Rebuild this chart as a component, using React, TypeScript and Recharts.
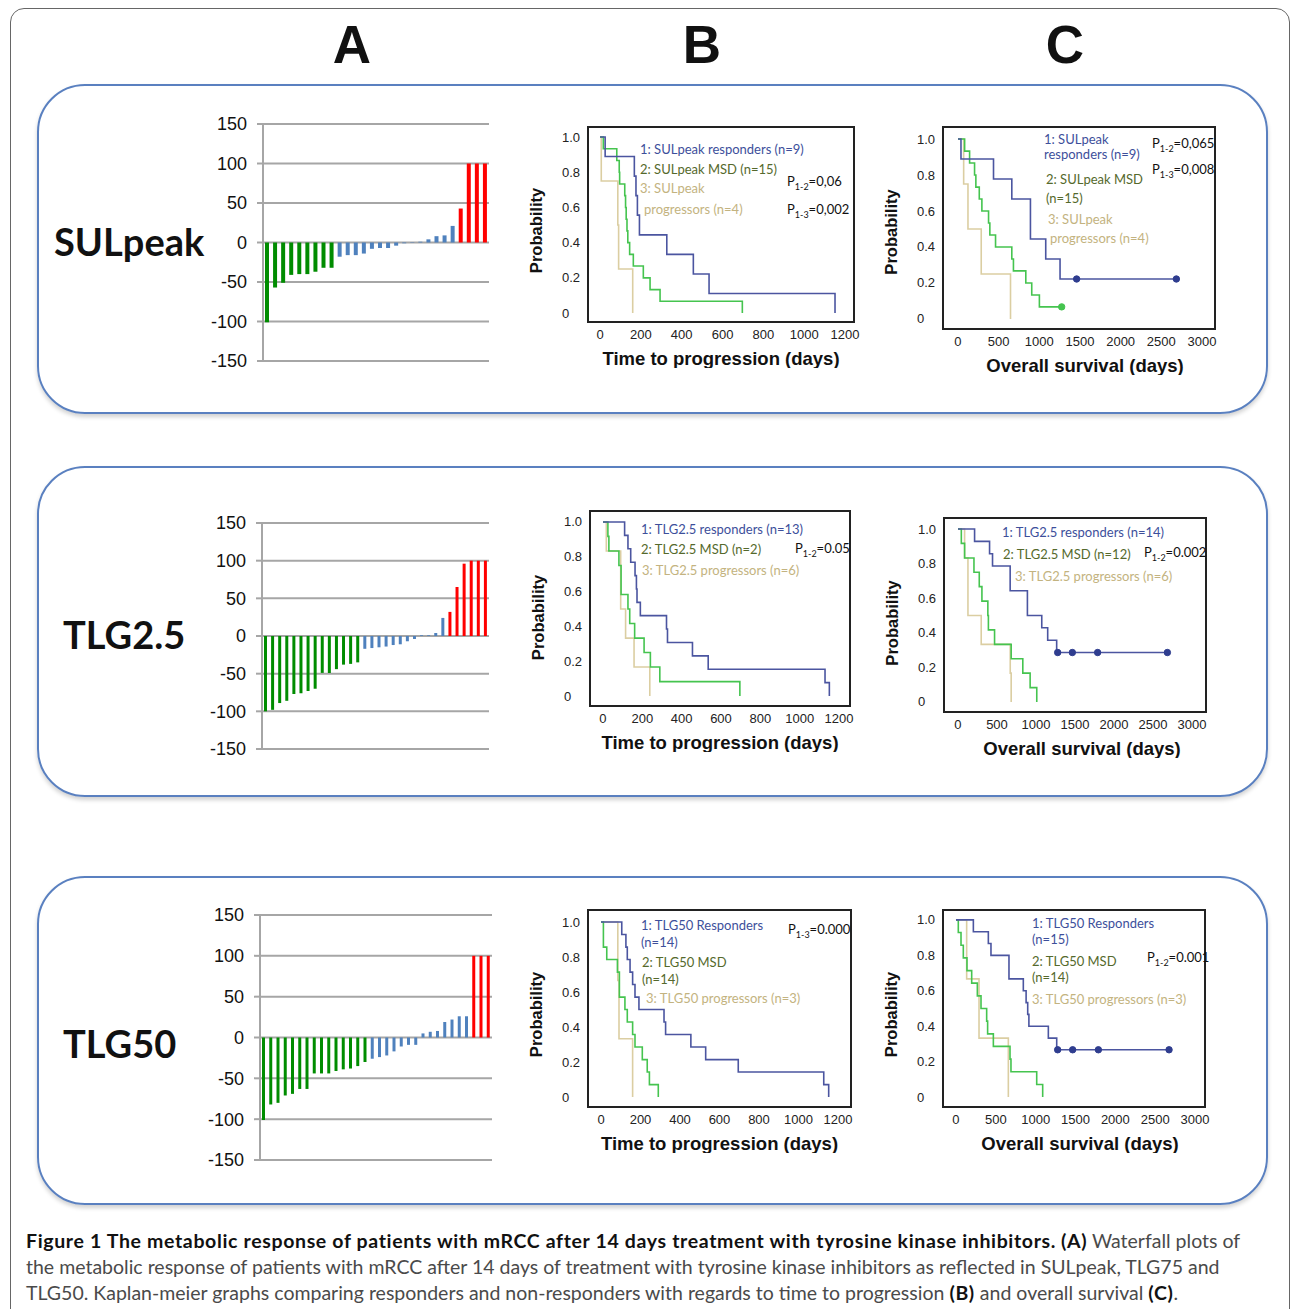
import React from "react"
import {
  Bar,
  BarChart,
  CartesianGrid,
  Cell,
  Line,
  LineChart,
  ReferenceArea,
  XAxis,
  YAxis,
} from "recharts"

// ---- waterfall values (% change, sorted per patient) ----
const waterfallTicks = [-150, -100, -50, 0, 50, 100, 150]

const sulpeakResp = [-101, -57, -51, -41, -40, -40, -37, -32, -32]
const sulpeakMsd = [-18, -16, -16, -14, -8, -7, -7, -4, -1, 0.5, 1, 4, 8, 9, 21]
const sulpeakProg = [43, 100, 100, 100]

const tlg25Resp = [-100, -98, -89, -86, -77, -76, -73, -70, -49, -49, -44, -38, -37, -35]
const tlg25Msd = [-17, -16, -15, -14, -12, -11, -7, -4, 1, 1, 4, 24]
const tlg25Prog = [32, 65, 96, 100, 100, 100]

const tlg50Resp = [-101, -82, -80, -71, -69, -63, -63, -44, -44, -44, -41, -39, -38, -35, -30]
const tlg50Msd = [-26, -24, -22, -17, -11, -9, -9, 5, 7, 8, 19, 22, 26, 26]
const tlg50Prog = [100, 100, 100]

// ---- Kaplan-Meier steps: [days, probability, censored?] ----
const ttpTicks = [0, 200, 400, 600, 800, 1000, 1200]
const osTicks = [0, 500, 1000, 1500, 2000, 2500, 3000]
const probTicks = [0, 0.2, 0.4, 0.6, 0.8, 1.0]

const b1Resp = [[0, 1], [25, 0.889], [168, 0.778], [176, 0.667], [183, 0.556], [193, 0.444], [327, 0.333], [457, 0.222], [534, 0.111], [1151, 0]]
const b1Msd = [[0, 1], [16, 0.933], [82, 0.867], [94, 0.8], [96, 0.733], [121, 0.667], [125, 0.6], [128, 0.533], [132, 0.467], [136, 0.4], [145, 0.333], [163, 0.267], [212, 0.2], [245, 0.133], [294, 0.067], [697, 0]]
const b1Prog = [[0, 1], [6, 0.75], [87, 0.5], [91, 0.25], [160, 0]]

const c1Resp = [[0, 1], [37, 0.889], [437, 0.778], [662, 0.667], [891, 0.444], [1079, 0.333], [1255, 0.222], [1459, 0.222, 1], [2685, 0.222, 1]]
const c1Msd = [[0, 1], [82, 0.933], [143, 0.867], [204, 0.8], [220, 0.733], [262, 0.667], [294, 0.6], [376, 0.533], [392, 0.467], [462, 0.4], [662, 0.333], [682, 0.267], [834, 0.2], [907, 0.133], [1001, 0.067], [1275, 0.067, 1]]
const c1Prog = [[0, 1], [70, 0.75], [123, 0.5], [286, 0.25], [646, 0]]

const b2Resp = [[0, 1], [110, 0.923], [127, 0.846], [141, 0.769], [163, 0.692], [170, 0.615], [173, 0.538], [190, 0.462], [323, 0.385], [328, 0.308], [455, 0.231], [535, 0.154], [1129, 0.077], [1151, 0]]
const b2Msd = [[0, 1], [25, 0.917], [30, 0.833], [81, 0.75], [92, 0.583], [127, 0.5], [136, 0.417], [161, 0.333], [209, 0.25], [241, 0.167], [289, 0.083], [696, 0]]
const b2Prog = [[0, 1], [17, 0.833], [90, 0.5], [115, 0.333], [158, 0.167], [238, 0]]

const c2Resp = [[0, 1], [213, 0.929], [405, 0.857], [443, 0.786], [669, 0.643], [890, 0.5], [1074, 0.429], [1150, 0.357], [1265, 0.286], [1278, 0.286, 1], [1466, 0.286, 1], [1790, 0.286, 1], [2684, 0.286, 1]]
const c2Msd = [[0, 1], [43, 0.917], [85, 0.833], [205, 0.75], [273, 0.667], [307, 0.583], [383, 0.5], [390, 0.417], [469, 0.333], [682, 0.25], [831, 0.167], [925, 0.083], [1010, 0]]
const c2Prog = [[0, 1], [85, 0.833], [128, 0.5], [298, 0.333], [670, 0.167], [682, 0]]

const b3Resp = [[0, 1], [105, 0.929], [126, 0.857], [133, 0.786], [147, 0.714], [160, 0.643], [172, 0.571], [192, 0.5], [319, 0.429], [327, 0.357], [455, 0.286], [530, 0.214], [695, 0.143], [1128, 0.071], [1153, 0]]
const b3Msd = [[0, 1], [12, 0.857], [29, 0.786], [83, 0.714], [93, 0.571], [121, 0.5], [133, 0.429], [160, 0.357], [172, 0.286], [209, 0.214], [234, 0.143], [245, 0.071], [290, 0]]
const b3Prog = [[0, 1], [85, 0.667], [91, 0.333], [160, 0]]

const c3Resp = [[0, 1], [218, 0.933], [406, 0.867], [439, 0.8], [665, 0.667], [845, 0.6], [880, 0.533], [900, 0.467], [915, 0.4], [1159, 0.333], [1264, 0.267], [1276, 0.267, 1], [1464, 0.267, 1], [1787, 0.267, 1], [2674, 0.267, 1]]
const c3Msd = [[0, 1], [29, 0.929], [63, 0.857], [92, 0.786], [138, 0.714], [197, 0.643], [268, 0.571], [314, 0.5], [385, 0.429], [397, 0.357], [469, 0.286], [678, 0.214], [690, 0.143], [1013, 0.071], [1088, 0]]
const c3Prog = [[0, 1], [134, 0.667], [289, 0.333], [657, 0]]

const ARIAL = "'Liberation Sans', Arial, sans-serif"
const CAL = "Lato, 'Open Sans', sans-serif"

const BLUE = "#4b55a0"
const GREEN = "#45c44f"
const TAN = "#dbcea2"
const TXT_BLUE = "#3d4f9b"
const TXT_OLIVE = "#55692c"
const TXT_TAN = "#c3b380"

const barColors: Record<string, string> = { r: "#008c00", m: "#4f81bd", p: "#ff0000" }

const waterfall = (r: number[], m: number[], p: number[]) => [
  ...r.map((v) => ({ v, g: "r" })),
  ...m.map((v) => ({ v, g: "m" })),
  ...p.map((v) => ({ v, g: "p" })),
].map((d, i) => ({ ...d, i }))

const steps = (rows: number[][]) => rows.map(([t, p, c]) => ({ t, p, c: !!c }))

function Waterfall({ data, left, top, width, height, yWidth, right, barSize }: any) {
  return (
    <div style={{ position: "absolute", left, top }}>
      <BarChart width={width} height={height} data={data} margin={{ top: 10, right, bottom: 10, left: 0 }} barCategoryGap={0}>
        <CartesianGrid vertical={false} stroke="#a6a6a6" strokeWidth={2} />
        <XAxis dataKey="i" hide />
        <YAxis
          domain={[-150, 150]}
          ticks={waterfallTicks}
          interval={0}
          width={yWidth}
          axisLine={{ stroke: "#a6a6a6", strokeWidth: 2 }}
          tickLine={{ stroke: "#a6a6a6", strokeWidth: 2 }}
          tickSize={6}
          tickMargin={10}
          tick={{ fill: "#111", fontSize: 18, fontFamily: ARIAL }}
        />
        <Bar dataKey="v" barSize={barSize} isAnimationActive={false}>
          {data.map((d: any) => (
            <Cell key={d.i} fill={barColors[d.g]} />
          ))}
        </Bar>
      </BarChart>
    </div>
  )
}

const ProbTick = (props: any) => {
  const { x, y, payload } = props
  const v = payload.value
  return (
    <text x={x - 26} y={y} dy={4.5} textAnchor="start" fontSize={13} fill="#222" fontFamily={ARIAL}>
      {v === 0 ? "0" : v.toFixed(1)}
    </text>
  )
}

const censorDot = (color: string) => (props: any) => {
  const { cx, cy, payload, index } = props
  if (!payload.c) return <g key={index} />
  return <circle key={index} cx={cx} cy={cy} r={3.2} fill={color} stroke={color} />
}

function KMPanel({ frame, xDomain, yDomain, xTicks, xTitle, titleDx, probDy, curves }: any) {
  const [x0, y0, x1, y1] = frame
  const yw = 60
  const xh = 46
  const pad = 2
  const rightPad = 24
  return (
    <div style={{ position: "absolute", left: x0 - yw, top: y0 - pad }}>
      <LineChart width={x1 - x0 + yw + rightPad} height={y1 - y0 + xh + pad} margin={{ top: pad, right: rightPad, bottom: 0, left: 0 }}>
        <XAxis
          type="number"
          dataKey="t"
          domain={xDomain}
          ticks={xTicks}
          interval={0}
          allowDataOverflow
          axisLine={false}
          tickLine={false}
          tickSize={0}
          tickMargin={8}
          height={xh}
          tick={{ fontSize: 13, fill: "#222", fontFamily: ARIAL }}
          label={{ value: xTitle, position: "insideBottom", offset: 3, dx: titleDx || 0, fontSize: 18.5, fontWeight: 700, fill: "#111", fontFamily: ARIAL }}
        />
        <YAxis
          type="number"
          domain={yDomain}
          ticks={probTicks}
          interval={0}
          allowDataOverflow
          axisLine={false}
          tickLine={false}
          tickSize={0}
          tickMargin={0}
          width={yw}
          tick={<ProbTick />}
          label={{ value: "Probability", angle: -90, position: "insideLeft", offset: 8, dy: probDy || 0, fontSize: 16.5, fontWeight: 700, fill: "#111", fontFamily: ARIAL, style: { textAnchor: "middle" } }}
        />
        <ReferenceArea x1={xDomain[0]} x2={xDomain[1]} y1={yDomain[0]} y2={yDomain[1]} fill="none" fillOpacity={0} stroke="#222" strokeWidth={2} ifOverflow="visible" />
        {curves.map((c: any, k: number) => (
          <Line
            key={k}
            data={c.data}
            dataKey="p"
            type="stepAfter"
            stroke={c.color}
            strokeWidth={1.6}
            dot={censorDot(c.dotColor || c.color)}
            activeDot={false}
            isAnimationActive={false}
          />
        ))}
      </LineChart>
    </div>
  )
}

const Note = ({ x, y, color, children }: any) => (
  <div style={{ position: "absolute", left: x, top: y - 9, color, fontFamily: CAL, fontSize: 13, lineHeight: "18px", whiteSpace: "nowrap" }}>
    {children}
  </div>
)

const P = ({ x, y, sub, val }: any) => (
  <Note x={x} y={y} color="#111">
    P<sub style={{ fontSize: 9 }}>{sub}</sub>={val}
  </Note>
)

const Box = ({ top, height }: any) => (
  <div
    style={{
      position: "absolute",
      left: 37,
      top,
      width: 1231,
      height,
      border: "2px solid #5a80c0",
      borderRadius: 48,
      boxSizing: "border-box",
      boxShadow: "0 3px 4px rgba(0,0,0,0.18)",
    }}
  />
)

const RowLabel = ({ x, y, children }: any) => (
  <div style={{ position: "absolute", left: x, top: y - 26, fontFamily: CAL, fontWeight: 700, fontSize: 38, lineHeight: "52px", color: "#111", whiteSpace: "nowrap" }}>
    {children}
  </div>
)

const ColHead = ({ x, children }: any) => (
  <div style={{ position: "absolute", left: x - 40, width: 80, top: 14, textAlign: "center", fontFamily: ARIAL, fontWeight: 700, fontSize: 53, lineHeight: "62px", color: "#111" }}>
    {children}
  </div>
)

const km = (resp: number[][], msd: number[][], prog: number[][]) => [
  { data: steps(prog), color: TAN },
  { data: steps(msd), color: GREEN },
  { data: steps(resp), color: BLUE, dotColor: "#2f3d8f" },
]

const bold = { color: "#111", fontWeight: 700, letterSpacing: 0.65 }

export default function App() {
  return (
    <div style={{ position: "absolute", left: 0, top: 0, width: 1290, height: 1309, background: "#fff", overflow: "hidden" }}>
      <div style={{ position: "absolute", left: 10, top: 8, width: 1280, height: 1340, border: "1.5px solid #666", borderRadius: 14, boxSizing: "border-box" }} />

      <ColHead x={352}>A</ColHead>
      <ColHead x={702}>B</ColHead>
      <ColHead x={1065}>C</ColHead>

      <Box top={84} height={330} />
      <Box top={466} height={331} />
      <Box top={876} height={329} />

      <RowLabel x={54} y={241}>SULpeak</RowLabel>
      <RowLabel x={63} y={634}>TLG2.5</RowLabel>
      <RowLabel x={63} y={1043}>TLG50</RowLabel>

      <Waterfall data={waterfall(sulpeakResp, sulpeakMsd, sulpeakProg)} left={200} top={114} width={295} height={257} yWidth={63} right={6} barSize={4} />
      <Waterfall data={waterfall(tlg25Resp, tlg25Msd, tlg25Prog)} left={200} top={513} width={295} height={246} yWidth={62} right={6} barSize={3} />
      <Waterfall data={waterfall(tlg50Resp, tlg50Msd, tlg50Prog)} left={195} top={905} width={302} height={265} yWidth={65} right={5} barSize={3} />

      <KMPanel frame={[588, 127, 854, 322]} xDomain={[-59, 1244]} yDomain={[-0.051, 1.057]} xTicks={ttpTicks} xTitle="Time to progression (days)" probDy={6} curves={km(b1Resp, b1Msd, b1Prog)} />
      <KMPanel frame={[943, 127, 1215, 329]} xDomain={[-184, 3160]} yDomain={[-0.056, 1.067]} xTicks={osTicks} xTitle="Overall survival (days)" titleDx={6} probDy={4} curves={km(c1Resp, c1Msd, c1Prog)} />
      <KMPanel frame={[590, 511, 850, 706]} xDomain={[-66, 1256]} yDomain={[-0.057, 1.063]} xTicks={ttpTicks} xTitle="Time to progression (days)" probDy={9} curves={km(b2Resp, b2Msd, b2Prog)} />
      <KMPanel frame={[944, 518, 1206, 712]} xDomain={[-179, 3179]} yDomain={[-0.058, 1.064]} xTicks={osTicks} xTitle="Overall survival (days)" titleDx={7} probDy={8} curves={km(c2Resp, c2Msd, c2Prog)} />
      <KMPanel frame={[588, 910, 851, 1107]} xDomain={[-66, 1266]} yDomain={[-0.057, 1.069]} xTicks={ttpTicks} xTitle="Time to progression (days)" probDy={6} curves={km(b3Resp, b3Msd, b3Prog)} />
      <KMPanel frame={[943, 910, 1205, 1107]} xDomain={[-163, 3125]} yDomain={[-0.056, 1.056]} xTicks={osTicks} xTitle="Overall survival (days)" titleDx={6} probDy={6} curves={km(c3Resp, c3Msd, c3Prog)} />

      {/* row 1 annotations */}
      <Note x={640} y={149} color={TXT_BLUE}>1: SULpeak responders (n=9)</Note>
      <Note x={640} y={169} color={TXT_OLIVE}>2: SULpeak MSD (n=15)</Note>
      <Note x={640} y={188} color={TXT_TAN}>3: SULpeak</Note>
      <Note x={644} y={209} color={TXT_TAN}>progressors (n=4)</Note>
      <P x={787} y={181} sub="1-2" val="0,06" />
      <P x={787} y={209} sub="1-3" val="0,002" />

      <Note x={1044} y={139} color={TXT_BLUE}>1: SULpeak</Note>
      <Note x={1044} y={154} color={TXT_BLUE}>responders (n=9)</Note>
      <Note x={1046} y={179} color={TXT_OLIVE}>2: SULpeak MSD</Note>
      <Note x={1046} y={198} color={TXT_OLIVE}>(n=15)</Note>
      <Note x={1048} y={219} color={TXT_TAN}>3: SULpeak</Note>
      <Note x={1050} y={238} color={TXT_TAN}>progressors (n=4)</Note>
      <P x={1152} y={143} sub="1-2" val="0,065" />
      <P x={1152} y={169} sub="1-3" val="0,008" />

      {/* row 2 annotations */}
      <Note x={641} y={529} color={TXT_BLUE}>1: TLG2.5 responders (n=13)</Note>
      <Note x={641} y={549} color={TXT_OLIVE}>2: TLG2.5 MSD (n=2)</Note>
      <Note x={642} y={570} color={TXT_TAN}>3: TLG2.5 progressors (n=6)</Note>
      <P x={795} y={548} sub="1-2" val="0.05" />

      <Note x={1002} y={532} color={TXT_BLUE}>1: TLG2.5 responders (n=14)</Note>
      <Note x={1003} y={554} color={TXT_OLIVE}>2: TLG2.5 MSD (n=12)</Note>
      <Note x={1015} y={576} color={TXT_TAN}>3: TLG2.5 progressors (n=6)</Note>
      <P x={1144} y={552} sub="1-2" val="0.002" />

      {/* row 3 annotations */}
      <Note x={641} y={925} color={TXT_BLUE}>1: TLG50 Responders</Note>
      <Note x={641} y={942} color={TXT_BLUE}>(n=14)</Note>
      <Note x={642} y={962} color={TXT_OLIVE}>2: TLG50 MSD</Note>
      <Note x={642} y={979} color={TXT_OLIVE}>(n=14)</Note>
      <Note x={646} y={998} color={TXT_TAN}>3: TLG50 progressors (n=3)</Note>
      <P x={788} y={929} sub="1-3" val="0.000" />

      <Note x={1032} y={923} color={TXT_BLUE}>1: TLG50 Responders</Note>
      <Note x={1032} y={939} color={TXT_BLUE}>(n=15)</Note>
      <Note x={1032} y={961} color={TXT_OLIVE}>2: TLG50 MSD</Note>
      <Note x={1032} y={977} color={TXT_OLIVE}>(n=14)</Note>
      <Note x={1032} y={999} color={TXT_TAN}>3: TLG50 progressors (n=3)</Note>
      <P x={1147} y={957} sub="1-2" val="0.001" />

      {/* caption */}
      <div style={{ position: "absolute", left: 26, top: 1228, fontFamily: CAL, fontSize: 19.5, lineHeight: "26px", color: "#4a4a4a", whiteSpace: "nowrap" }}>
        <div>
          <span style={bold}>Figure 1 The metabolic response of patients with mRCC after 14 days treatment with tyrosine kinase inhibitors.</span>{" "}
          <span style={bold}>(A)</span> Waterfall plots of
        </div>
        <div>the metabolic response of patients with mRCC after 14 days of treatment with tyrosine kinase inhibitors as reflected in SULpeak, TLG75 and</div>
        <div>
          TLG50. Kaplan-meier graphs comparing responders and non-responders with regards to time to progression <span style={bold}>(B)</span> and overall survival{" "}
          <span style={bold}>(C)</span>.
        </div>
      </div>
    </div>
  )
}
